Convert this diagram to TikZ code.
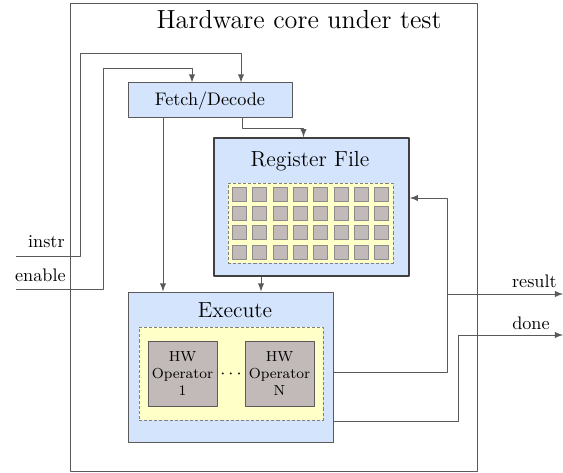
\documentclass[tikz,border=0pt]{standalone}
\usetikzlibrary{calc}
\definecolor{blockblue}{RGB}{212,228,252}
\definecolor{arrayyellow}{RGB}{255,255,200}
\definecolor{cellgray}{RGB}{194,186,184}
\definecolor{wiregray}{RGB}{90,90,90}
\newcommand{\pxunit}{0.55pt}
\begin{document}
\begin{tikzpicture}[>=latex,line join=bevel,x=\pxunit,y=-\pxunit,
  box/.style={draw=wiregray,line width=0.55pt,inner sep=0pt},
  block/.style={box,fill=blockblue},
  array/.style={draw=gray,fill=arrayyellow,dash pattern=on 1.7pt off 1.1pt,line width=0.55pt,inner sep=0pt},
  cell/.style={draw=gray!90,fill=cellgray,line width=0.5pt,minimum size=14*\pxunit,inner sep=0pt},
  wire/.style={draw=wiregray,line width=0.55pt},
  tag/.style={anchor=base east,inner sep=0pt},
]
 \useasboundingbox (0,0) rectangle (563,472);

 \node (core_node) at (273.5,237.5) [box,minimum width=407*\pxunit,minimum height=467*\pxunit] {};
 \node (title_node) at (299,20) {\Large Hardware core under test};

 \node (fetch_node) at (210,100.5) [block,minimum width=164*\pxunit,minimum height=35*\pxunit] {Fetch/Decode};

 \node (regfile_node) at (311.5,207) [block,draw=black!75,line width=0.9pt,minimum width=195*\pxunit,minimum height=138*\pxunit] {};
 \node (regfile_title) at (310,161) {\large Register File};
 \node (regs_node) at (310.5,223) [array,minimum width=165*\pxunit,minimum height=80*\pxunit] {};
 \foreach \c in {0,...,7}
   \foreach \r in {0,...,3}
     \node (reg_\c_\r) at (239.5+20.3*\c,194.5+19.2*\r) [cell] {};

 \node (exec_node) at (230.5,367) [block,minimum width=205*\pxunit,minimum height=150*\pxunit] {};
 \node (exec_title) at (235,310) {\large Execute};
 \node (ops_node) at (231,373.5) [array,minimum width=184*\pxunit,minimum height=93*\pxunit] {};
 \node (op_1) at (182.5,373.5) [box,fill=cellgray,minimum width=69*\pxunit,minimum height=65*\pxunit,font=\footnotesize,align=center] {HW\\Operator\\1};
 \node (op_n) at (279.5,373.5) [box,fill=cellgray,minimum width=69*\pxunit,minimum height=65*\pxunit,font=\footnotesize,align=center] {HW\\Operator\\N};
 \node (op_dots) at (231,374) {$\cdots$};

 % inputs
 \coordinate (instr_in) at (16,256);
 \coordinate (enable_in) at (16,289);
 \node (instr_label) at (65,247) [tag] {instr};
 \node (enable_label) at (66,281) [tag] {enable};
 \draw [wire,->] (instr_in) -| (80,54) -| ($(fetch_node.north)+(31,0)$);
 \draw [wire,->] (enable_in) -| (103,69) -| ($(fetch_node.north)+(-18,0)$);

 % fetch/decode outputs
 \coordinate (fd_a) at ($(fetch_node.south)+(-47,0)$);
 \coordinate (fd_b) at ($(fetch_node.south)+(32,0)$);
 \draw [wire,->] (fd_a) -- (fd_a |- exec_node.north);
 \draw [wire,->] (fd_b) -- ++(0,10) -| ($(regfile_node.north)+(-8,0)$);

 % register file to execute
 \coordinate (rf_a) at ($(regfile_node.south)+(-50.5,0)$);
 \draw [wire,->] (rf_a) -- (rf_a |- exec_node.north);

 % execute outputs
 \coordinate (wb_turn) at (447,198);
 \coordinate (done_turn) at (458,335);
 \coordinate (result_out) at (563,294);
 \coordinate (done_out) at (563,335);
 \draw [wire,->] ($(exec_node.east)+(0,5)$) -| (wb_turn) -- (wb_turn -| regfile_node.east);
 \draw [wire,->] (wb_turn |- result_out) -- (result_out);
 \draw [wire,->] ($(exec_node.east)+(0,54)$) -| (done_turn) -- (done_out);
 \node (result_label) at (557,287) [tag] {result};
 \node (done_label) at (550,329) [tag] {done};

\end{tikzpicture}
\end{document}
